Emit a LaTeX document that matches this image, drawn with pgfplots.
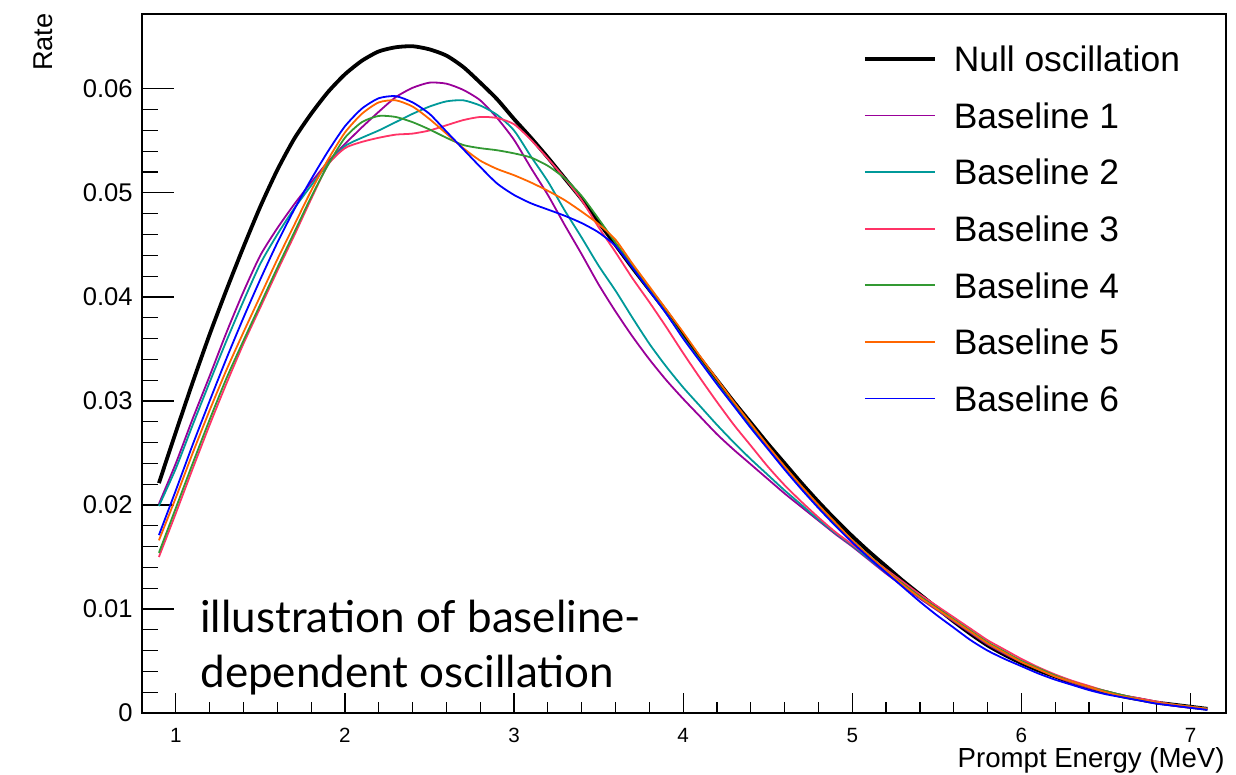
\documentclass[border=0pt]{standalone}
\usepackage{fontspec}
\setmainfont{Liberation Sans}
\newfontfamily\annfont{Lato}
\usepackage{pgfplots}
\usepackage{pgfplotstable}
\pgfplotsset{compat=1.18}
\definecolor{cB1}{RGB}{153,0,153}
\definecolor{cB2}{RGB}{0,153,153}
\definecolor{cB3}{RGB}{255,51,102}
\definecolor{cB4}{RGB}{51,153,51}
\definecolor{cB5}{RGB}{255,102,0}
\definecolor{cB6}{RGB}{0,0,255}
\pgfplotstableread{
E N B1 B2 B3 B4 B5 B6
0.9 0.0221 0.0201 0.0199 0.0150 0.0154 0.0166 0.0171
1.0 0.0270 0.0240 0.0235 0.0192 0.0197 0.0207 0.0214
1.1 0.0318 0.0283 0.0277 0.0235 0.0240 0.0250 0.0258
1.2 0.0364 0.0324 0.0318 0.0277 0.0282 0.0291 0.0300
1.3 0.0407 0.0366 0.0358 0.0317 0.0322 0.0330 0.0341
1.4 0.0448 0.0405 0.0396 0.0355 0.0358 0.0366 0.0380
1.5 0.0487 0.0440 0.0432 0.0390 0.0393 0.0401 0.0417
1.6 0.0522 0.0466 0.0460 0.0425 0.0428 0.0436 0.0452
1.7 0.0552 0.0489 0.0485 0.0459 0.0462 0.0469 0.0484
1.8 0.0576 0.0510 0.0507 0.0494 0.0496 0.0502 0.0513
1.9 0.0597 0.0530 0.0528 0.0527 0.0527 0.0532 0.0540
2.0 0.0614 0.0547 0.0545 0.0543 0.0553 0.0558 0.0564
2.1 0.0627 0.0563 0.0553 0.0549 0.0568 0.0576 0.0581
2.2 0.0636 0.0578 0.0560 0.0553 0.0574 0.0587 0.0591
2.3 0.0640 0.0592 0.0568 0.0556 0.0573 0.0589 0.0593
2.4 0.0641 0.0601 0.0576 0.0557 0.0568 0.0583 0.0587
2.5 0.0638 0.0606 0.0583 0.0560 0.0561 0.0571 0.0576
2.6 0.0632 0.0605 0.0588 0.0565 0.0553 0.0557 0.0559
2.7 0.0621 0.0599 0.0589 0.0570 0.0546 0.0543 0.0542
2.8 0.0606 0.0589 0.0584 0.0573 0.0543 0.0531 0.0525
2.9 0.0590 0.0572 0.0575 0.0572 0.0541 0.0523 0.0509
3.0 0.0571 0.0551 0.0560 0.0566 0.0538 0.0517 0.0498
3.1 0.0553 0.0524 0.0535 0.0551 0.0534 0.0510 0.0490
3.2 0.0534 0.0498 0.0511 0.0533 0.0526 0.0502 0.0484
3.3 0.0514 0.0469 0.0483 0.0514 0.0514 0.0493 0.0478
3.4 0.0494 0.0441 0.0457 0.0493 0.0497 0.0482 0.0471
3.5 0.0472 0.0412 0.0430 0.0467 0.0475 0.0470 0.0462
3.6 0.0450 0.0386 0.0406 0.0443 0.0452 0.0455 0.0449
3.7 0.0428 0.0362 0.0380 0.0418 0.0430 0.0432 0.0428
3.8 0.0407 0.0340 0.0355 0.0395 0.0408 0.0410 0.0406
3.9 0.0386 0.0320 0.0333 0.0371 0.0385 0.0388 0.0384
4.0 0.0363 0.0302 0.0313 0.0346 0.0361 0.0366 0.0360
4.1 0.0341 0.0285 0.0295 0.0322 0.0339 0.0343 0.0338
4.2 0.0320 0.0268 0.0277 0.0299 0.0317 0.0321 0.0316
4.3 0.0299 0.0253 0.0260 0.0277 0.0296 0.0299 0.0295
4.4 0.0279 0.0239 0.0244 0.0257 0.0275 0.0278 0.0274
4.5 0.0259 0.0225 0.0229 0.0237 0.0255 0.0257 0.0254
4.6 0.0240 0.0211 0.0214 0.0219 0.0236 0.0237 0.0234
4.7 0.0221 0.0198 0.0200 0.0203 0.0217 0.0218 0.0215
4.8 0.0203 0.0185 0.0186 0.0188 0.0199 0.0200 0.0197
4.9 0.0186 0.0172 0.0173 0.0174 0.0182 0.0183 0.0180
5.0 0.0170 0.0160 0.0161 0.0162 0.0166 0.0166 0.0164
5.1 0.0155 0.0147 0.0148 0.0150 0.0151 0.0151 0.0149
5.2 0.0141 0.0134 0.0135 0.0138 0.0137 0.0137 0.0135
5.3 0.0127 0.0122 0.0123 0.0126 0.0124 0.0123 0.0121
5.4 0.0114 0.0110 0.0111 0.0114 0.0112 0.0111 0.0107
5.5 0.0101 0.0099 0.0100 0.0103 0.0101 0.0100 0.0094
5.6 0.0088 0.0088 0.0089 0.0092 0.0090 0.0089 0.0082
5.7 0.0076 0.0077 0.0078 0.0081 0.0079 0.0078 0.0070
5.8 0.0065 0.0066 0.0067 0.0070 0.0068 0.0067 0.0060
5.9 0.0056 0.0057 0.0058 0.0061 0.0059 0.0058 0.0052
6.0 0.0048 0.0049 0.0050 0.0052 0.0050 0.0049 0.0045
6.1 0.0041 0.0042 0.0042 0.0044 0.0043 0.0042 0.0038
6.2 0.0035 0.0035 0.0036 0.0037 0.0036 0.0035 0.0032
6.3 0.0029 0.0029 0.0030 0.0031 0.0030 0.0030 0.0027
6.4 0.0024 0.0024 0.0025 0.0026 0.0025 0.0025 0.0022
6.5 0.0020 0.0020 0.0020 0.0021 0.0021 0.0020 0.0018
6.6 0.0016 0.0016 0.0016 0.0017 0.0017 0.0016 0.0015
6.7 0.0013 0.0013 0.0013 0.0014 0.0013 0.0013 0.0012
6.8 0.0010 0.0010 0.0010 0.0011 0.0010 0.0010 0.0009
6.9 0.0008 0.0007 0.0008 0.0008 0.0008 0.0008 0.0007
7.0 0.0006 0.0005 0.0006 0.0006 0.0006 0.0006 0.0005
7.1 0.0004 0.0004 0.0004 0.0004 0.0004 0.0004 0.0003
}\spec
\begin{document}
\begin{tikzpicture}[x=1pt,y=1pt]
\path[use as bounding box] (0,0) rectangle (618,387.5);
\begin{axis}[
  at={(71pt,31pt)}, anchor=south west,
  width=542pt, height=349.5pt, scale only axis,
  xmin=0.8, xmax=7.21, ymin=0, ymax=0.0672,
  axis line style={line width=0.9pt},
  xtick={1,2,3,4,5,6,7},
  ytick={0,0.01,0.02,0.03,0.04,0.05,0.06},
  yticklabels={0,0.01,0.02,0.03,0.04,0.05,0.06},
  scaled y ticks=false,
  minor x tick num=4, minor y tick num=4,
  tick align=inside, xtick pos=bottom, ytick pos=left,
  tick style={line width=0.6pt, black},
  x tick style={/pgfplots/major tick length=10pt, /pgfplots/minor tick length=5.3pt},
  y tick style={/pgfplots/major tick length=15.8pt, /pgfplots/minor tick length=7.8pt},
  /pgf/number format/assume math mode=true,
  xticklabel style={font=\fontsize{10.3}{12}\selectfont, inner sep=0pt, anchor=north, yshift=-7.5pt},
  yticklabel style={font=\fontsize{12.8}{15}\selectfont, inner sep=0pt, anchor=east, xshift=-4.5pt},
  legend style={draw=none, fill=none, at={(axis description cs:0.6651,0.9547)}, anchor=north west,
    inner sep=0pt, outer sep=0pt, row sep=11.8pt,
    font=\fontsize{17.7}{20}\selectfont,
    nodes={inner sep=0pt, text height=13pt, text depth=3.5pt}},
  legend cell align=left,
  legend image code/.code={\draw[#1] (0pt,1.6pt) -- (35pt,1.6pt); \path (43.5pt,1.6pt);},
  every axis plot/.append style={smooth, tension=0.4},
]
\addplot[black, line width=1.9pt] table[x=E,y=N] {\spec};
\addplot[cB1, line width=0.9pt] table[x=E,y=B1] {\spec};
\addplot[cB2, line width=0.9pt] table[x=E,y=B2] {\spec};
\addplot[cB3, line width=0.9pt] table[x=E,y=B3] {\spec};
\addplot[cB4, line width=0.9pt] table[x=E,y=B4] {\spec};
\addplot[cB5, line width=0.9pt] table[x=E,y=B5] {\spec};
\addplot[cB6, line width=0.9pt] table[x=E,y=B6] {\spec};
\legend{Null oscillation, Baseline 1, Baseline 2, Baseline 3, Baseline 4, Baseline 5, Baseline 6}
\end{axis}
\node[rotate=90, anchor=base east, inner sep=0pt, font=\fontsize{13.6}{16}\selectfont] at (26,381) {Rate};
\node[anchor=base east, inner sep=0pt, font=\fontsize{13.8}{16}\selectfont] at (612.5,3.5) {Prompt Energy (MeV)};
\node[anchor=base west, inner sep=0pt, font=\annfont\fontsize{22}{27}\selectfont] at (100,71) {illustration of baseline-};
\node[anchor=base west, inner sep=0pt, font=\annfont\fontsize{22}{27}\selectfont] at (100,43.5) {dependent oscillation};
\end{tikzpicture}
\end{document}
